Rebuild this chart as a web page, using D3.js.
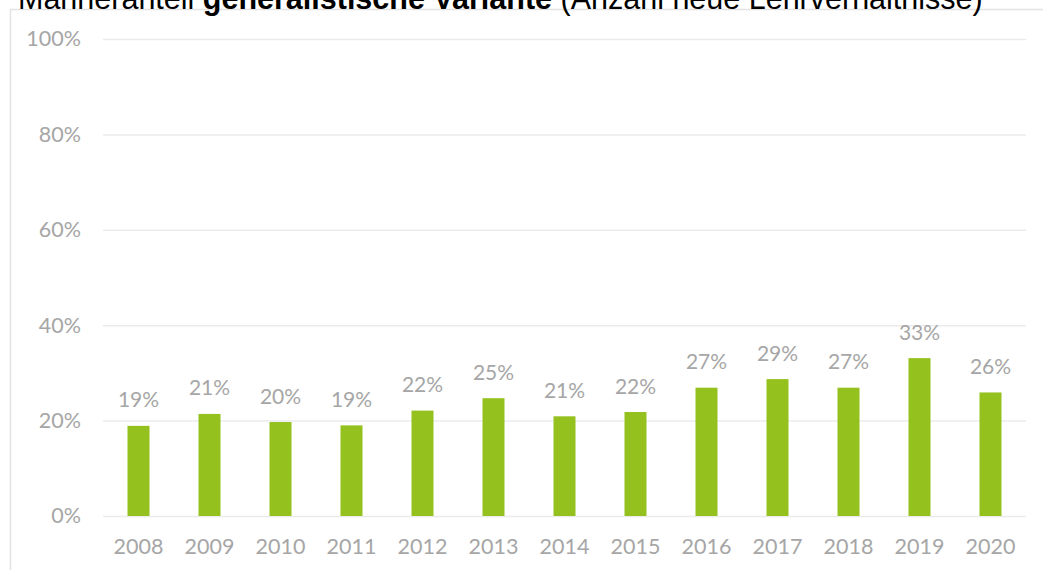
<!DOCTYPE html>
<html>
<head>
<meta charset="utf-8">
<script src="https://cdn.jsdelivr.net/npm/d3@7"></script>
<style>
  body { margin: 0; background: #fff; }
  svg { display: block; }
</style>
</head>
<body>
<div id="chart"></div>
<script>
// data
var years = ["2008", "2009", "2010", "2011", "2012", "2013", "2014",
             "2015", "2016", "2017", "2018", "2019", "2020"];
var shares = [18.9, 21.4, 19.7, 19.0, 22.1, 24.7, 20.9,
              21.8, 26.9, 28.7, 26.9, 33.1, 25.9];
var yTicks = [0, 20, 40, 60, 80, 100];

var svgWidth = 1043;
var svgHeight = 570;

var margin = { top: 39, right: 17, bottom: 54, left: 103 };
var width = svgWidth - margin.left - margin.right;
var height = svgHeight - margin.top - margin.bottom;

var svg = d3.select("#chart")
  .append("svg")
  .attr("width", svgWidth)
  .attr("height", svgHeight);

// frame of the chart area (cut at right and bottom)
svg.append("path")
  .attr("d", "M10.5," + svgHeight + " V9.5 H" + svgWidth)
  .attr("fill", "none")
  .attr("stroke", "#e3e3e3")
  .attr("stroke-width", 1.5);

// title, partly cut off at the top like in the source
var title = svg.append("text")
  .attr("x", 18)
  .attr("y", 9)
  .attr("font-family", "Liberation Sans, Arial, sans-serif")
  .attr("font-size", 30.5)
  .attr("fill", "#000");
title.append("tspan").text("Männeranteil ");
title.append("tspan").attr("font-weight", "bold").text("generalistische Variante");
title.append("tspan").text(" (Anzahl neue Lehrverhältnisse)");

var g = svg.append("g")
  .attr("transform", `translate(${margin.left},${margin.top})`);

var x = d3.scaleBand()
  .domain(years)
  .range([0, width])
  .paddingInner(0.69)
  .paddingOuter(0.345);

var y = d3.scaleLinear()
  .domain([0, 100])
  .range([height, 0]);

var labelFont = "Lato, 'Open Sans', sans-serif";
var gray = "#a6a6a6";

// gridlines + y labels
var yAxis = g.append("g")
  .call(d3.axisLeft(y).tickValues(yTicks).tickSize(-width).tickPadding(22)
    .tickFormat(d => d + "%"));
yAxis.select(".domain").remove();
yAxis.selectAll("line").attr("stroke", "#ebebeb").attr("stroke-width", 1.5);
yAxis.selectAll("text")
  .attr("font-family", labelFont)
  .attr("font-size", 21.5)
  .attr("fill", gray);

// x labels
var xAxis = g.append("g")
  .attr("transform", `translate(0,${height})`)
  .call(d3.axisBottom(x).tickSize(0).tickPadding(23));
xAxis.select(".domain").remove();
xAxis.selectAll("text")
  .attr("font-family", labelFont)
  .attr("font-size", 21.5)
  .attr("fill", gray);

// bars
g.selectAll("rect.bar")
  .data(years)
  .enter()
  .append("rect")
  .attr("class", "bar")
  .attr("x", d => x(d))
  .attr("width", x.bandwidth())
  .attr("y", (d, i) => y(shares[i]))
  .attr("height", (d, i) => height - y(shares[i]))
  .attr("fill", "#95c11f");

// value labels
g.selectAll("text.val")
  .data(years)
  .enter()
  .append("text")
  .attr("class", "val")
  .attr("x", d => x(d) + x.bandwidth() / 2)
  .attr("y", (d, i) => y(shares[i]) - 18.5)
  .attr("text-anchor", "middle")
  .attr("font-family", labelFont)
  .attr("font-size", 21)
  .attr("fill", gray)
  .text((d, i) => Math.round(shares[i]) + "%");
</script>
</body>
</html>
